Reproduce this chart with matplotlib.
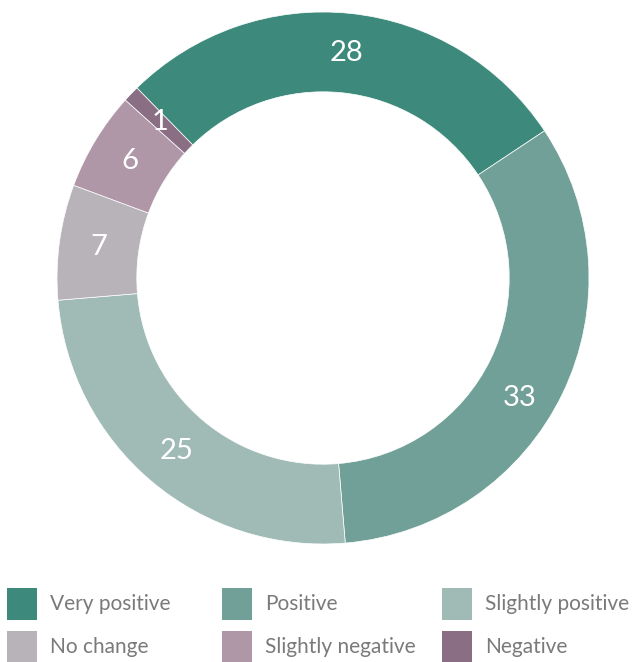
import matplotlib
matplotlib.use("Agg")
import matplotlib.pyplot as plt
from matplotlib.patches import Rectangle
import numpy as np

categories = ["Very positive", "Positive", "Slightly positive", "No change", "Slightly negative", "Negative"]
values = [28, 33, 25, 7, 6, 1]
colors = ["#3d8a7c", "#70a097", "#a0bbb6", "#b8b3b9", "#af97a8", "#8a6e84"]

plt.rcParams['font.family'] = ['Lato', 'DejaVu Sans']

W, H = 640, 662
fig = plt.figure(figsize=(W / 100, H / 100), dpi=100)
cx, cy, R = 323, 278, 266
ax = fig.add_axes([(cx - R) / W, (H - cy - R) / H, 2 * R / W, 2 * R / H])
ax.set_aspect('equal')
ax.axis('off')

wedges, texts = ax.pie(values, colors=colors, startangle=134.4, counterclock=False,
                       radius=1.0, wedgeprops=dict(width=0.30, edgecolor='white', linewidth=0.5),
                       labels=[str(v) for v in values], labeldistance=0.85,
                       textprops=dict(color='white', fontsize=21, fontweight='normal',
                                      ha='center', va='center'))
ax.set_xlim(-1, 1)
ax.set_ylim(-1, 1)

# small nudge of the "33" label along the ring, as in the reference
w = wedges[1]
ang = np.deg2rad((w.theta1 + w.theta2) / 2 - 5.5)
texts[1].set_position((0.865 * np.cos(ang), 0.865 * np.sin(ang)))

# legend
cols_x = [7, 222, 442]
rows_y = [604, 647]
sq_w, sq_h = 30, 32
for i, (cat, col) in enumerate(zip(categories, colors)):
    r, c = divmod(i, 3)
    x = cols_x[c]
    yc = rows_y[r]
    fig.patches.append(Rectangle((x / W, (H - yc - sq_h / 2) / H), sq_w / W, sq_h / H,
                                 transform=fig.transFigure, facecolor=col, edgecolor='none'))
    fig.text((x + 43) / W, (H - yc) / H, cat, fontsize=15, color='#7a7a7a',
             ha='left', va='center')

fig.savefig("out.png", dpi=100, facecolor='white')
